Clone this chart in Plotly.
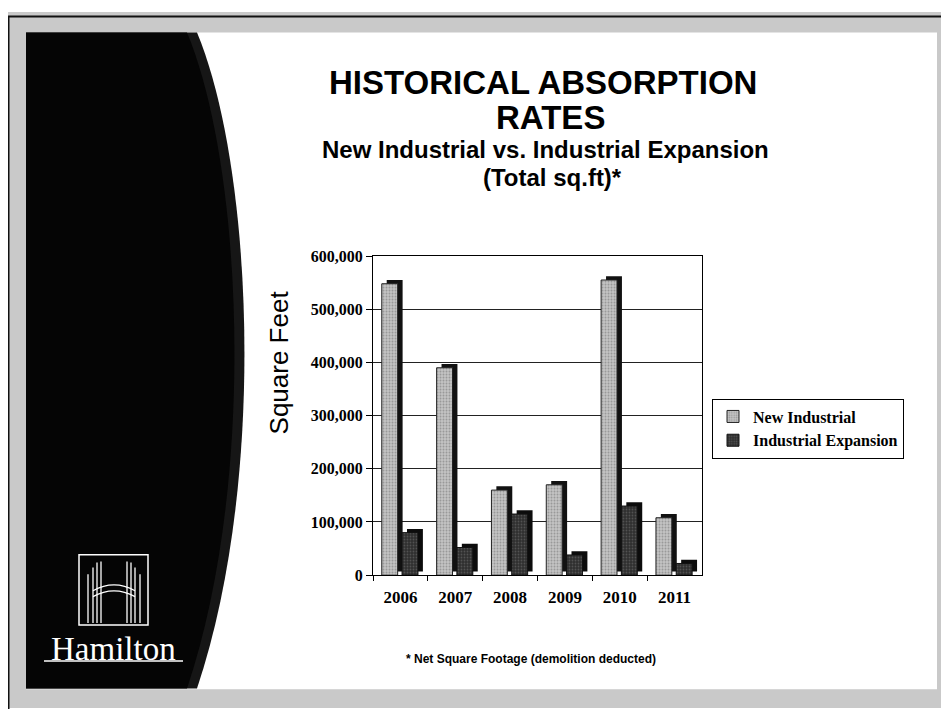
import plotly.graph_objects as go

years = ["2006", "2007", "2008", "2009", "2010", "2011"]
new_industrial = [548000, 390000, 160000, 170000, 555000, 108000]
industrial_expansion = [80000, 52000, 115000, 38000, 130000, 22000]

# page has an 8px body margin, so the figure starts at (8, 8)
OFF = 8
W, H = 941, 705


def px(x):
    return (x - OFF) / W


def py(y):
    return 1 - (y - OFF) / H


def path(cmds):
    out = []
    for c, pts in cmds:
        out.append(c + " " + " ".join(f"{px(x):.5f},{py(y):.5f}" for x, y in pts))
    return " ".join(out) + " Z"


def panel(dx):
    return path([("M", [(26, 25)]), ("L", [(197 - dx, 25)]),
                 ("C", [(252 - dx, 160), (268 - dx, 480), (197 - dx, 697)]),
                 ("L", [(26, 697)])])


# 3d look: dark extrusion behind each front face
depth_x = 0.09
depth_y = 7000
new_off, exp_off, bw = -0.34, 0.03, 0.29

fig = go.Figure()
fig.add_trace(go.Bar(x=years, y=new_industrial, base=[depth_y] * len(years),
                     offset=new_off + depth_x, width=bw, marker_color="#111111",
                     marker_line_width=0, showlegend=False, hoverinfo="skip"))
fig.add_trace(go.Bar(x=years, y=new_industrial, name="New Industrial",
                     offset=new_off, width=bw,
                     marker=dict(color="#bdbdbd", line=dict(color="#222222", width=1),
                                 pattern=dict(shape=".", fgcolor="#6a6a6a", bgcolor="#c4c4c4",
                                              size=3, solidity=0.35))))
fig.add_trace(go.Bar(x=years, y=industrial_expansion, base=[depth_y] * len(years),
                     offset=exp_off + depth_x, width=bw, marker_color="#0c0c0c",
                     marker_line_width=0, showlegend=False, hoverinfo="skip"))
fig.add_trace(go.Bar(x=years, y=industrial_expansion, name="Industrial Expansion",
                     offset=exp_off, width=bw,
                     marker=dict(color="#333333", line=dict(color="#111111", width=1),
                                 pattern=dict(shape=".", fgcolor="#777777", bgcolor="#2e2e2e",
                                              size=3, solidity=0.3))))

serif = "Liberation Serif"
sans = "Liberation Sans"

shapes = [
    # scanned gray frame
    dict(type="rect", xref="paper", yref="paper", x0=px(8), x1=px(960), y0=py(717), y1=py(4),
         fillcolor="#c9c9c9", line_width=0, layer="below"),
    dict(type="line", xref="paper", yref="paper", x0=px(8), x1=px(960), y0=py(8.5), y1=py(8.5),
         line=dict(color="#111111", width=2), layer="below"),
    dict(type="line", xref="paper", yref="paper", x0=px(8.5), x1=px(8.5), y0=py(8), y1=py(718),
         line=dict(color="#111111", width=2), layer="below"),
    # white slide
    dict(type="rect", xref="paper", yref="paper", x0=px(26), x1=px(937), y0=py(698), y1=py(25),
         fillcolor="white", line_width=0, layer="below"),
    # dark curved side panel, a touch lighter at its edge
    dict(type="path", xref="paper", yref="paper", layer="below", fillcolor="#161616", line_width=0,
         path=panel(0)),
    dict(type="path", xref="paper", yref="paper", layer="below", fillcolor="#050505", line_width=0,
         path=panel(10)),
    # logo box
    dict(type="rect", xref="paper", yref="paper", x0=px(79), x1=px(148), y0=py(632), y1=py(560),
         line=dict(color="white", width=1.5)),
]

# logo columns
for x, top in [(88, 580), (93, 573), (97, 568), (101, 567),
               (127, 567), (131, 568), (135, 573), (140, 580)]:
    shapes.append(dict(type="line", xref="paper", yref="paper", x0=px(x), x1=px(x),
                       y0=py(630), y1=py(top), line=dict(color="white", width=1.3)))
for yb in (597, 603):
    shapes.append(dict(type="path", xref="paper", yref="paper", line=dict(color="white", width=1.3),
                       path=f"M {px(93):.5f},{py(yb):.5f} Q {px(114):.5f},{py(yb - 12):.5f} "
                            f"{px(135):.5f},{py(yb):.5f}"))
shapes.append(dict(type="line", xref="paper", yref="paper", x0=px(44), x1=px(183),
                   y0=py(669), y1=py(669), line=dict(color="white", width=1.5)))

annotations = [
    dict(text="<b>HISTORICAL ABSORPTION</b>", x=px(543), y=py(76), font=dict(family=sans, size=33)),
    dict(text="<b>RATES</b>", x=px(550), y=py(112), font=dict(family=sans, size=33)),
    dict(text="<b>New Industrial vs. Industrial Expansion</b>", x=px(545), y=py(145),
         font=dict(family=sans, size=24)),
    dict(text="<b>(Total sq.ft)*</b>", x=px(552), y=py(174), font=dict(family=sans, size=24)),
    dict(text="Square Feet", x=px(279), y=py(363), textangle=-90, font=dict(family=sans, size=26)),
    dict(text="<b>* Net Square Footage (demolition deducted)</b>", x=px(531), y=py(667),
         font=dict(family=sans, size=12)),
    dict(text="Hamilton", x=px(113), y=py(657), font=dict(family=serif, size=33, color="white")),
]
for a in annotations:
    a.update(xref="paper", yref="paper", showarrow=False, xanchor="center", yanchor="middle")
    a["font"].setdefault("color", "black")

fig.update_layout(
    width=W, height=H,
    margin=dict(l=0, r=0, t=0, b=0),
    paper_bgcolor="white",
    plot_bgcolor="white",
    barmode="overlay",
    shapes=shapes,
    annotations=annotations,
    legend=dict(x=px(712), y=py(400), xanchor="left", yanchor="top",
                bordercolor="black", borderwidth=1, bgcolor="white",
                font=dict(family=serif, size=16, color="black", weight="bold"),
                tracegroupgap=0, itemwidth=30),
    xaxis=dict(domain=[px(373), px(702)], type="category", showgrid=False,
               showline=True, linecolor="black", linewidth=1, mirror=True,
               ticks="outside", tickson="boundaries", ticklen=5, tickcolor="black",
               ticklabelstandoff=6,
               tickfont=dict(family=serif, size=17, color="black", weight="bold")),
    yaxis=dict(domain=[py(581), py(254)], range=[0, 600000], dtick=100000,
               tickformat=",d", showgrid=True, gridcolor="#222222", gridwidth=1,
               showline=True, linecolor="black", linewidth=1, mirror=True,
               ticks="outside", ticklen=6, tickcolor="black", zeroline=False,
               tickfont=dict(family=serif, size=16, color="black", weight="bold")),
)

fig.write_html("out.html")
